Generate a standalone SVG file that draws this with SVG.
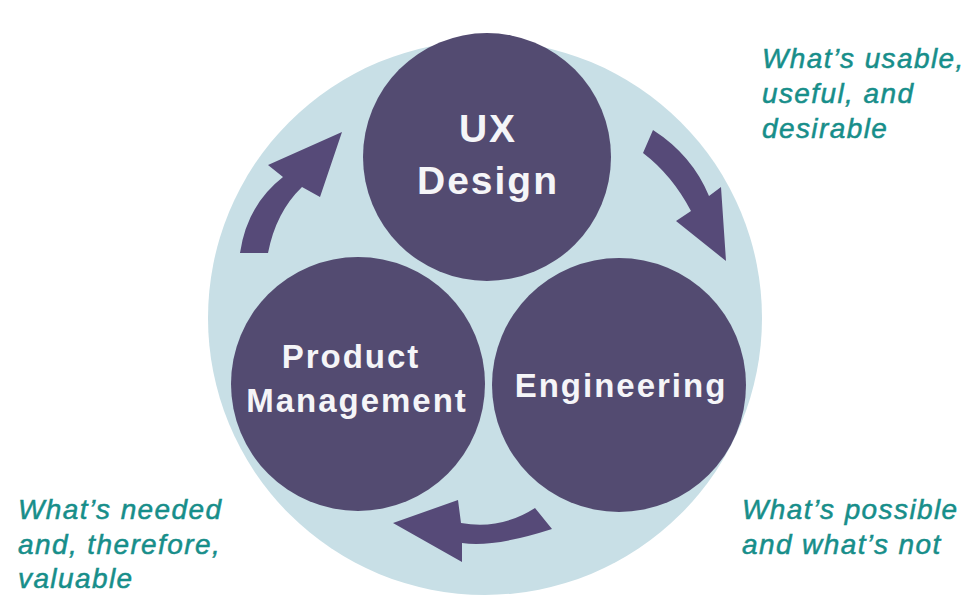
<svg xmlns="http://www.w3.org/2000/svg" width="971" height="600" viewBox="0 0 971 600">
<style>
.node{fill:#534b71}
.nt{font-family:"Liberation Sans",Arial,sans-serif;font-weight:bold;fill:#f5f5f8;text-anchor:middle}
.arr{fill:#564a78}
.note{font-family:"Liberation Sans",Arial,sans-serif;font-style:italic;font-size:28px;fill:#178e8a;stroke:#178e8a;stroke-width:0.5px;letter-spacing:1.4px}
</style>
<rect width="971" height="600" fill="#ffffff"/>
<g id="background">
<circle cx="485" cy="318" r="277" fill="#c8dfe6"/>
</g>
<g id="connectors">
<path class="arr" d="M240,253 Q247,205 283,177 L268,165 L342,132 L320,197 L302,187 Q276,212 268,253 Z"/>
<path class="arr" d="M653,130 Q692,155 709,196 L721,187 L726,261 L676,221 L691,211 Q672,175 643,153 Z"/>
<path class="arr" d="M393,523 L458,500 L461,523 Q501,530 535,508 L552,529 Q493,548 462,543 L462,562 Z"/>
</g>
<g id="ux-design">
<circle class="node" cx="487" cy="157" r="124"/>
<text class="nt" font-size="39" letter-spacing="2" x="488" y="142">UX</text>
<text class="nt" font-size="39" letter-spacing="2" x="488" y="194">Design</text>
</g>
<g id="product-management">
<circle class="node" cx="358" cy="384" r="127"/>
<text class="nt" font-size="33" letter-spacing="2" x="351" y="368">Product</text>
<text class="nt" font-size="33" letter-spacing="2" x="357" y="412">Management</text>
</g>
<g id="engineering">
<circle class="node" cx="619" cy="385" r="127"/>
<text class="nt" font-size="33" letter-spacing="2" x="621" y="397">Engineering</text>
</g>
<g id="notes">
<text class="note" x="762" y="68">What’s usable,</text>
<text class="note" x="762" y="103">useful, and</text>
<text class="note" x="762" y="138">desirable</text>
<text class="note" x="18" y="519">What’s needed</text>
<text class="note" x="18" y="554">and, therefore,</text>
<text class="note" x="18" y="588">valuable</text>
<text class="note" x="742" y="519">What’s possible</text>
<text class="note" x="742" y="554">and what’s not</text>
</g>
</svg>
